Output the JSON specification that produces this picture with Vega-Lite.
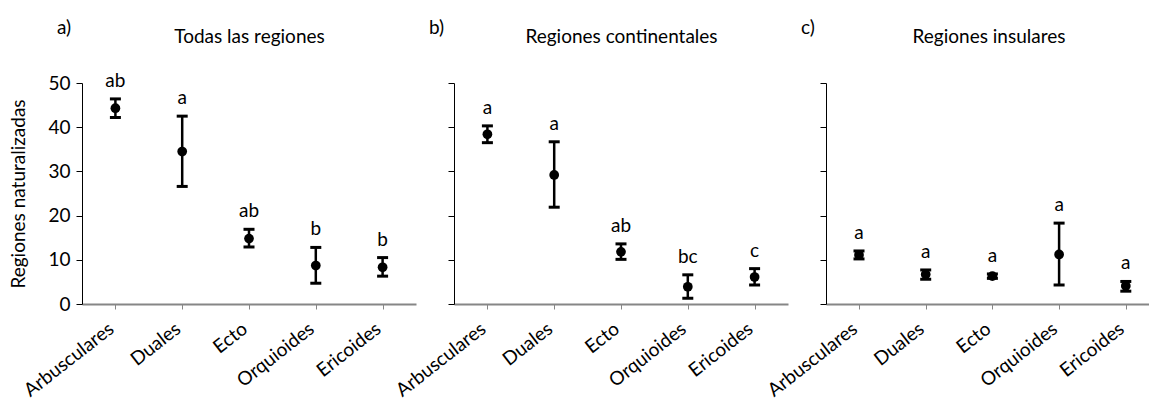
{
  "$schema": "https://vega.github.io/schema/vega-lite/v6.json",
  "padding": {"left": 9, "top": 19, "right": 0, "bottom": 0},
  "background": "white",
  "datasets": {
    "d": [
      {"panel": "a", "tipo": "Arbusculares", "media": 44.3, "lo": 42.2, "hi": 46.4, "letra": "ab"},
      {"panel": "a", "tipo": "Duales", "media": 34.5, "lo": 26.6, "hi": 42.5, "letra": "a"},
      {"panel": "a", "tipo": "Ecto", "media": 14.8, "lo": 12.9, "hi": 16.9, "letra": "ab"},
      {"panel": "a", "tipo": "Orquioides", "media": 8.7, "lo": 4.7, "hi": 12.8, "letra": "b"},
      {"panel": "a", "tipo": "Ericoides", "media": 8.3, "lo": 6.3, "hi": 10.5, "letra": "b"},
      {"panel": "b", "tipo": "Arbusculares", "media": 38.4, "lo": 36.5, "hi": 40.3, "letra": "a"},
      {"panel": "b", "tipo": "Duales", "media": 29.2, "lo": 21.9, "hi": 36.7, "letra": "a"},
      {"panel": "b", "tipo": "Ecto", "media": 11.8, "lo": 10.1, "hi": 13.6, "letra": "ab"},
      {"panel": "b", "tipo": "Orquioides", "media": 3.9, "lo": 1.3, "hi": 6.6, "letra": "bc"},
      {"panel": "b", "tipo": "Ericoides", "media": 6.1, "lo": 4.3, "hi": 8.0, "letra": "c"},
      {"panel": "c", "tipo": "Arbusculares", "media": 11.1, "lo": 10.2, "hi": 12.0, "letra": "a"},
      {"panel": "c", "tipo": "Duales", "media": 6.7, "lo": 5.6, "hi": 7.7, "letra": "a"},
      {"panel": "c", "tipo": "Ecto", "media": 6.3, "lo": 5.8, "hi": 6.8, "letra": "a"},
      {"panel": "c", "tipo": "Orquioides", "media": 11.2, "lo": 4.3, "hi": 18.3, "letra": "a"},
      {"panel": "c", "tipo": "Ericoides", "media": 4.1, "lo": 2.9, "hi": 5.1, "letra": "a"}
    ]
  },
  "spacing": 38,
  "bounds": "flush",
  "hconcat": [
    {
      "width": 334, "height": 221,
      "data": {"name": "d"},
      "transform": [{"filter": "datum.panel == 'a'"}],
      "title": {"text": "a)", "anchor": "start", "frame": "group", "dx": -25, "dy": 15},
      "layer": [
        {"mark": {"type": "rule", "color": "black", "strokeWidth": 2.5},
         "encoding": {
           "x": {"field": "tipo", "type": "ordinal", "sort": ["Arbusculares", "Duales", "Ecto", "Orquioides", "Ericoides"], "scale": {"type": "point", "padding": 0.5}, "axis": {"orient": "bottom", "title": null}},
           "y": {"field": "lo", "type": "quantitative", "scale": {"domain": [0, 50], "nice": false}, "axis": {"values": [0, 10, 20, 30, 40, 50], "title": "Regiones naturalizadas"}},
           "y2": {"field": "hi"}}},
        {"mark": {"type": "tick", "color": "black", "size": 11, "thickness": 3, "opacity": 1},
         "encoding": {
           "x": {"field": "tipo", "type": "ordinal", "sort": ["Arbusculares", "Duales", "Ecto", "Orquioides", "Ericoides"], "scale": {"type": "point", "padding": 0.5}, "axis": null},
           "y": {"field": "lo", "type": "quantitative", "title": "Regiones naturalizadas"}}},
        {"mark": {"type": "tick", "color": "black", "size": 11, "thickness": 3, "opacity": 1},
         "encoding": {
           "x": {"field": "tipo", "type": "ordinal", "sort": ["Arbusculares", "Duales", "Ecto", "Orquioides", "Ericoides"], "scale": {"type": "point", "padding": 0.5}, "axis": null},
           "y": {"field": "hi", "type": "quantitative", "title": "Regiones naturalizadas"}}},
        {"mark": {"type": "point", "filled": true, "shape": "circle", "size": 95, "color": "black", "opacity": 1},
         "encoding": {
           "x": {"field": "tipo", "type": "ordinal", "sort": ["Arbusculares", "Duales", "Ecto", "Orquioides", "Ericoides"], "scale": {"type": "point", "padding": 0.5}, "axis": null},
           "y": {"field": "media", "type": "quantitative", "title": "Regiones naturalizadas"}}},
        {"mark": {"type": "text", "fontSize": 19, "baseline": "alphabetic", "dy": -12, "color": "black"},
         "encoding": {
           "x": {"field": "tipo", "type": "ordinal", "sort": ["Arbusculares", "Duales", "Ecto", "Orquioides", "Ericoides"], "scale": {"type": "point", "padding": 0.5}, "axis": {"orient": "top", "title": "Todas las regiones", "labels": false, "ticks": false, "domain": false, "titlePadding": 37}},
           "y": {"field": "hi", "type": "quantitative", "title": "Regiones naturalizadas"},
           "text": {"field": "letra"}}}
      ]
    },
    {
      "width": 334, "height": 221,
      "data": {"name": "d"},
      "transform": [{"filter": "datum.panel == 'b'"}],
      "title": {"text": "b)", "anchor": "start", "frame": "group", "dx": -25, "dy": 15},
      "layer": [
        {"mark": {"type": "rule", "color": "black", "strokeWidth": 2.5},
         "encoding": {
           "x": {"field": "tipo", "type": "ordinal", "sort": ["Arbusculares", "Duales", "Ecto", "Orquioides", "Ericoides"], "scale": {"type": "point", "padding": 0.5}, "axis": {"orient": "bottom", "title": null}},
           "y": {"field": "lo", "type": "quantitative", "scale": {"domain": [0, 50], "nice": false}, "axis": {"values": [0, 10, 20, 30, 40, 50], "title": null, "labels": false}},
           "y2": {"field": "hi"}}},
        {"mark": {"type": "tick", "color": "black", "size": 11, "thickness": 3, "opacity": 1},
         "encoding": {
           "x": {"field": "tipo", "type": "ordinal", "sort": ["Arbusculares", "Duales", "Ecto", "Orquioides", "Ericoides"], "scale": {"type": "point", "padding": 0.5}, "axis": null},
           "y": {"field": "lo", "type": "quantitative"}}},
        {"mark": {"type": "tick", "color": "black", "size": 11, "thickness": 3, "opacity": 1},
         "encoding": {
           "x": {"field": "tipo", "type": "ordinal", "sort": ["Arbusculares", "Duales", "Ecto", "Orquioides", "Ericoides"], "scale": {"type": "point", "padding": 0.5}, "axis": null},
           "y": {"field": "hi", "type": "quantitative"}}},
        {"mark": {"type": "point", "filled": true, "shape": "circle", "size": 95, "color": "black", "opacity": 1},
         "encoding": {
           "x": {"field": "tipo", "type": "ordinal", "sort": ["Arbusculares", "Duales", "Ecto", "Orquioides", "Ericoides"], "scale": {"type": "point", "padding": 0.5}, "axis": null},
           "y": {"field": "media", "type": "quantitative"}}},
        {"mark": {"type": "text", "fontSize": 19, "baseline": "alphabetic", "dy": -12, "color": "black"},
         "encoding": {
           "x": {"field": "tipo", "type": "ordinal", "sort": ["Arbusculares", "Duales", "Ecto", "Orquioides", "Ericoides"], "scale": {"type": "point", "padding": 0.5}, "axis": {"orient": "top", "title": "Regiones continentales", "labels": false, "ticks": false, "domain": false, "titlePadding": 37}},
           "y": {"field": "hi", "type": "quantitative"},
           "text": {"field": "letra"}}}
      ]
    },
    {
      "width": 325, "height": 221,
      "data": {"name": "d"},
      "transform": [{"filter": "datum.panel == 'c'"}],
      "title": {"text": "c)", "anchor": "start", "frame": "group", "dx": -25, "dy": 15},
      "layer": [
        {"mark": {"type": "rule", "color": "black", "strokeWidth": 2.5},
         "encoding": {
           "x": {"field": "tipo", "type": "ordinal", "sort": ["Arbusculares", "Duales", "Ecto", "Orquioides", "Ericoides"], "scale": {"type": "point", "padding": 0.4363, "align": 0.567}, "axis": {"orient": "bottom", "title": null}},
           "y": {"field": "lo", "type": "quantitative", "scale": {"domain": [0, 50], "nice": false}, "axis": {"values": [0, 10, 20, 30, 40, 50], "title": null, "labels": false}},
           "y2": {"field": "hi"}}},
        {"mark": {"type": "tick", "color": "black", "size": 11, "thickness": 3, "opacity": 1},
         "encoding": {
           "x": {"field": "tipo", "type": "ordinal", "sort": ["Arbusculares", "Duales", "Ecto", "Orquioides", "Ericoides"], "scale": {"type": "point", "padding": 0.4363, "align": 0.567}, "axis": null},
           "y": {"field": "lo", "type": "quantitative"}}},
        {"mark": {"type": "tick", "color": "black", "size": 11, "thickness": 3, "opacity": 1},
         "encoding": {
           "x": {"field": "tipo", "type": "ordinal", "sort": ["Arbusculares", "Duales", "Ecto", "Orquioides", "Ericoides"], "scale": {"type": "point", "padding": 0.4363, "align": 0.567}, "axis": null},
           "y": {"field": "hi", "type": "quantitative"}}},
        {"mark": {"type": "point", "filled": true, "shape": "circle", "size": 95, "color": "black", "opacity": 1},
         "encoding": {
           "x": {"field": "tipo", "type": "ordinal", "sort": ["Arbusculares", "Duales", "Ecto", "Orquioides", "Ericoides"], "scale": {"type": "point", "padding": 0.4363, "align": 0.567}, "axis": null},
           "y": {"field": "media", "type": "quantitative"}}},
        {"mark": {"type": "text", "fontSize": 19, "baseline": "alphabetic", "dy": -12, "color": "black"},
         "encoding": {
           "x": {"field": "tipo", "type": "ordinal", "sort": ["Arbusculares", "Duales", "Ecto", "Orquioides", "Ericoides"], "scale": {"type": "point", "padding": 0.4363, "align": 0.567}, "axis": {"orient": "top", "title": "Regiones insulares", "labels": false, "ticks": false, "domain": false, "titlePadding": 37}},
           "y": {"field": "hi", "type": "quantitative"},
           "text": {"field": "letra"}}}
      ]
    }
  ],
  "config": {
    "font": "Lato",
    "view": {"stroke": null},
    "title": {"fontSize": 19, "fontWeight": "normal", "color": "black", "offset": 4},
    "axis": {"grid": false, "labelFont": "Lato", "titleFont": "Lato", "labelColor": "black", "titleColor": "black", "titleFontWeight": "normal", "titleFontSize": 19, "labelFontSize": 19},
    "axisX": {"domainColor": "#868686", "domainWidth": 2, "tickColor": "#868686", "tickSize": 5, "tickWidth": 1, "labelAngle": -38, "labelPadding": 10, "labelOffset": -10},
    "axisY": {"domainColor": "black", "domainWidth": 1, "tickColor": "black", "tickSize": 6, "tickWidth": 1, "labelPadding": 6, "titlePadding": 19}
  }
}
